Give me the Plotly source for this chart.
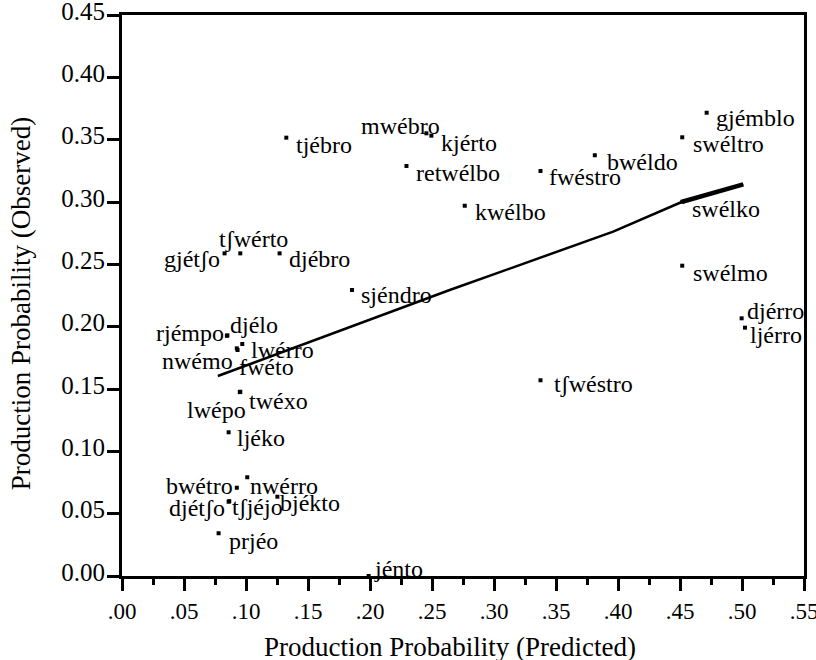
import plotly.graph_objects as go

# ---- data ----
words = ["tjébro", "mwébro", "kjérto", "retwélbo", "kwélbo", "fwéstro", "bwéldo",
         "gjémblo", "swéltro", "swélko", "swélmo", "djérro", "ljérro", "tʃwéstro",
         "gjétʃo", "tʃwérto", "djébro", "sjéndro", "rjémpo", "djélo", "lwérro",
         "nwémo", "fwéto", "twéxo", "lwépo", "ljéko", "bwétro", "nwérro",
         "djétʃo", "tʃjéjo", "bjékto", "prjéo", "jénto"]
predicted = [0.1325, 0.2455, 0.2495, 0.2294, 0.2764, 0.3375, 0.3813,
             0.4715, 0.4518, 0.4518, 0.4518, 0.4997, 0.5024, 0.3375,
             0.0827, 0.0954, 0.1271, 0.1855, 0.0846, 0.0850, 0.0970,
             0.0926, 0.0932, 0.0954, 0.0950, 0.0860, 0.0926, 0.1010,
             0.0860, 0.0865, 0.1253, 0.0779, 0.1989]
observed = [0.3516, 0.3551, 0.3532, 0.3289, 0.2970, 0.3249, 0.3375,
            0.3716, 0.3519, 0.3002, 0.2489, 0.2067, 0.1992, 0.1570,
            0.2588, 0.2588, 0.2588, 0.2294, 0.1927, 0.1930, 0.1861,
            0.1826, 0.1813, 0.1478, 0.1475, 0.1153, 0.0708, 0.0792,
            0.0596, 0.0600, 0.0636, 0.0343, 0.0000]

fit_x = [0.0773, 0.2643, 0.3961, 0.4518, 0.5010]
fit_y = [0.1604, 0.2294, 0.2762, 0.3002, 0.3142]

x_tick_vals = [0.00, 0.05, 0.10, 0.15, 0.20, 0.25, 0.30, 0.35, 0.40, 0.45, 0.50, 0.55]
x_tick_text = [".00", ".05", ".10", ".15", ".20", ".25", ".30", ".35", ".40", ".45", ".50", ".55"]
y_tick_vals = [0.00, 0.05, 0.10, 0.15, 0.20, 0.25, 0.30, 0.35, 0.40, 0.45]

x_title = "Production Probability (Predicted)"
y_title = "Production Probability (Observed)"

# ---- label placement (style): anchor, horizontal pixel offset, baseline pixel offset (down) ----
PLACE = {
    "tjébro": ("left", 8, 14), "mwébro": ("right", 16, 0), "kjérto": ("left", 8, 14),
    "retwélbo": ("left", 8, 14), "kwélbo": ("left", 8, 13), "fwéstro": ("left", 6, 13),
    "bwéldo": ("left", 10, 14), "gjémblo": ("left", 7, 12), "swéltro": ("left", 9, 14),
    "swélko": ("left", 8, 14), "swélmo": ("left", 9, 14), "djérro": ("left", 3, 0),
    "ljérro": ("left", 3, 14), "tʃwéstro": ("left", 11, 11), "gjétʃo": ("right", -3, 13),
    "tʃwérto": ("center", 13, -7), "djébro": ("left", 7, 13), "sjéndro": ("left", 7, 12),
    "rjémpo": ("right", -1, 4), "djélo": ("left", 1, -3), "lwérro": ("left", 7, 13),
    "nwémo": ("right", -2, 20), "fwéto": ("left", -1, 24), "twéxo": ("left", 7, 16),
    "lwépo": ("right", 8, 25), "ljéko": ("left", 6, 13), "bwétro": ("right", -2, 5),
    "nwérro": ("left", 1, 16), "djétʃo": ("right", -2, 13), "tʃjéjo": ("left", 1, 13),
    "bjékto": ("left", 1, 13), "prjéo": ("left", 8, 15), "jénto": ("left", 3, 0),
}

FONT = "Liberation Serif, Times New Roman, serif"
LABEL_SIZE = 24
BASE_K = 7  # approx distance from box middle to baseline

fig = go.Figure()
fig.add_trace(go.Scatter(x=fit_x, y=fit_y, mode="lines",
                         line=dict(color="black", width=2.5), hoverinfo="skip"))
fig.add_trace(go.Scatter(x=fit_x[-2:], y=fit_y[-2:], mode="lines",
                         line=dict(color="black", width=4.5), hoverinfo="skip"))
fig.add_trace(go.Scatter(x=predicted, y=observed, mode="markers",
                         marker=dict(symbol="square", size=4, color="black"),
                         text=words, hoverinfo="text"))

for w, xv, yv in zip(words, predicted, observed):
    anchor, dx, dy = PLACE[w]
    fig.add_annotation(x=xv, y=yv, text=w, showarrow=False, xanchor=anchor,
                       yanchor="middle", xshift=dx, yshift=BASE_K - dy,
                       font=dict(family=FONT, size=LABEL_SIZE, color="black"))

fig.add_annotation(x=0.481, y=-0.126, xref="paper", yref="paper", text=x_title,
                   showarrow=False, xanchor="center", yanchor="middle",
                   font=dict(family=FONT, size=27, color="black"))
fig.add_annotation(x=-0.1475, y=0.485, xref="paper", yref="paper", text=y_title,
                   showarrow=False, xanchor="center", yanchor="middle", textangle=-90,
                   font=dict(family=FONT, size=27, color="black"))

axis_common = dict(showline=True, linewidth=3, linecolor="black", mirror=True,
                   ticks="outside", ticklen=12, tickwidth=3, tickcolor="black",
                   showgrid=False, zeroline=False, automargin=False,
                   ticklabeloverflow="allow")

fig.update_layout(
    width=816, height=660,
    margin=dict(l=122, r=12, t=15, b=84),
    plot_bgcolor="white", paper_bgcolor="white",
    showlegend=False,
    xaxis=dict(range=[0, 0.5500001], tickvals=x_tick_vals, ticktext=x_tick_text,
               tickfont=dict(family=FONT, size=23, color="black"),
               minor=dict(dtick=0.025, ticks="outside", ticklen=6, tickwidth=3,
                          tickcolor="black", showgrid=False),
               **axis_common),
    yaxis=dict(range=[0, 0.4500001], tickvals=y_tick_vals, tickformat=".2f",
               tickfont=dict(family=FONT, size=25, color="black"),
               ticklabelshift=-4, ticklabelstandoff=-3,
               **axis_common),
)

fig.write_html("out.html", config={"displayModeBar": False},
               post_script="document.body.style.margin='0';document.body.style.overflow='hidden';")
